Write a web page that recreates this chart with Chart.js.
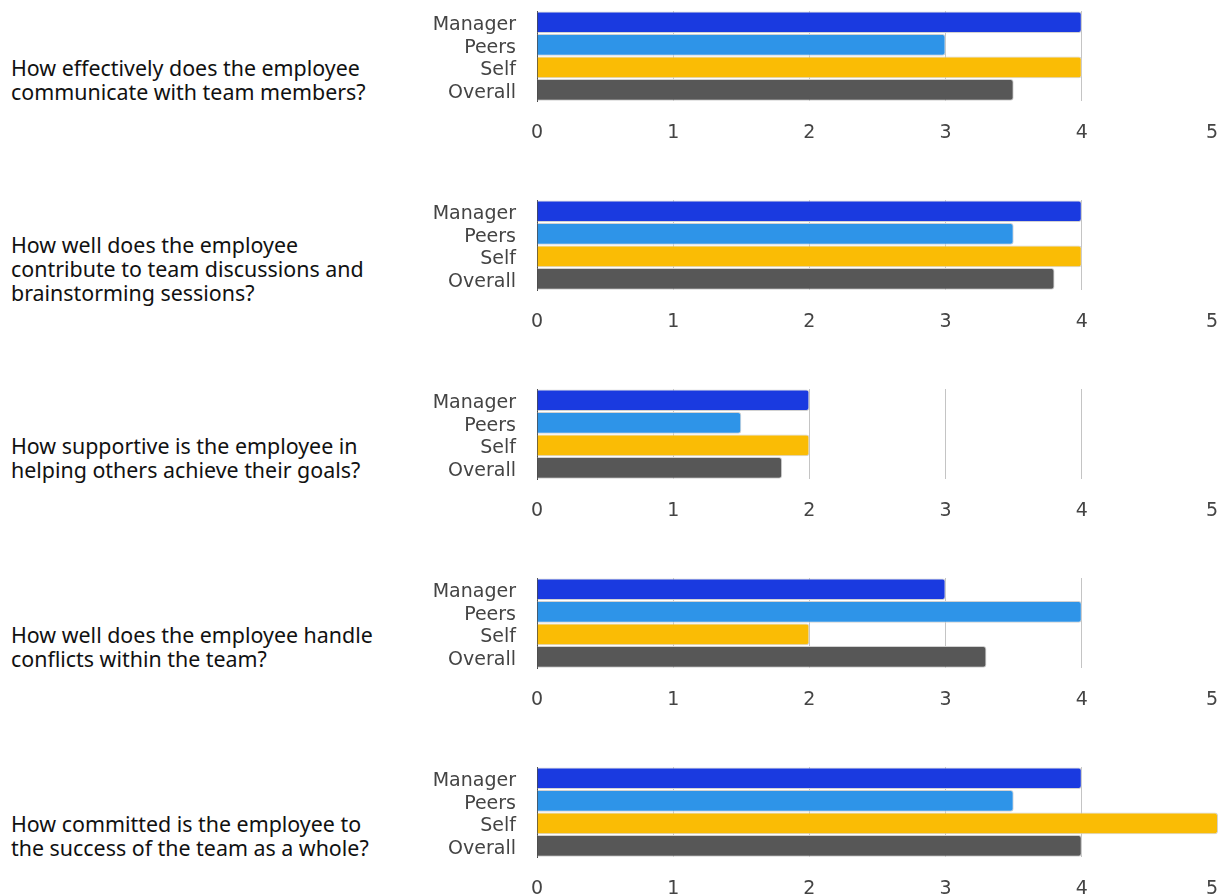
<!DOCTYPE html>
<html>
<head>
<meta charset="utf-8">
<script src="https://cdn.jsdelivr.net/npm/chart.js@4"></script>
<style>
  html, body { margin: 0; padding: 0; background: #fff; overflow: hidden; }
  body { width: 1219px; height: 894px; position: relative; }
  .row { position: absolute; left: 0; width: 1219px; height: 189px; }
  .question {
    position: absolute; left: 11px; top: 0; width: 400px; height: 160px;
    display: flex; align-items: center;
    font-family: "Noto Sans", sans-serif; font-size: 21.4px; line-height: 24px; color: #111;
  }
  .chart { position: absolute; left: 420px; top: 0; width: 798px; height: 166px; }
</style>
</head>
<body>
<div id="rows"></div>
<script>
const questions = [
  ['How effectively does the employee', 'communicate with team members?'],
  ['How well does the employee', 'contribute to team discussions and', 'brainstorming sessions?'],
  ['How supportive is the employee in', 'helping others achieve their goals?'],
  ['How well does the employee handle', 'conflicts within the team?'],
  ['How committed is the employee to', 'the success of the team as a whole?']
];
const raters = ['Manager', 'Peers', 'Self', 'Overall'];
const managerScores = [4, 4, 2, 3, 4];
const peerScores = [3, 3.5, 1.5, 4, 3.5];
const selfScores = [4, 4, 2, 2, 5];
const overallScores = [3.5, 3.8, 1.8, 3.3, 4];
const scoreTicks = [0, 1, 2, 3, 4, 5];

const raterColors = ['#1a3ae0', '#2e94e8', '#fabc05', '#575757'];
const axisFont = { family: '"DejaVu Sans", sans-serif', size: 19 };

const rows = document.getElementById('rows');

questions.forEach((lines, i) => {
  const row = document.createElement('div');
  row.className = 'row';
  row.style.top = (i * 189) + 'px';

  const q = document.createElement('div');
  q.className = 'question';
  q.innerHTML = '<div>' + lines.join('<br>') + '</div>';
  row.appendChild(q);

  const box = document.createElement('div');
  box.className = 'chart';
  const canvas = document.createElement('canvas');
  box.appendChild(canvas);
  row.appendChild(box);
  rows.appendChild(row);

  new Chart(canvas, {
    type: 'bar',
    data: {
      labels: raters,
      datasets: [{
        data: [managerScores[i], peerScores[i], selfScores[i], overallScores[i]],
        backgroundColor: raterColors,
        borderColor: '#d2d2d2',
        borderWidth: 1,
        borderRadius: 3,
        barPercentage: 0.96,
        categoryPercentage: 1
      }]
    },
    options: {
      indexAxis: 'y',
      responsive: true,
      maintainAspectRatio: false,
      animation: false,
      layout: { padding: { top: 11, bottom: 2 } },
      plugins: {
        legend: { display: false },
        tooltip: { enabled: false }
      },
      scales: {
        x: {
          min: scoreTicks[0],
          max: scoreTicks[scoreTicks.length - 1],
          afterBuildTicks: s => { s.ticks = scoreTicks.map(v => ({ value: v })) },
          // let the plot run to the right edge
          afterFit: s => { s.paddingRight = 0 },
          border: { display: false },
          grid: {
            drawTicks: false,
            color: c => (c.tick && c.tick.value > 0 && c.tick.value < 5) ? '#c4c4c4' : 'transparent'
          },
          ticks: {
            padding: 20,
            color: '#444',
            font: axisFont,
            // keep the last label inside the canvas
            callback: v => v === 5 ? v + '\u2007' : v
          }
        },
        y: {
          afterFit: s => {
            s.width = 117;
            s.paddingTop = 0;
            s.paddingBottom = 0;
          },
          border: { color: '#4a4a4a', width: 1 },
          grid: { display: false, drawTicks: false },
          ticks: { padding: 21, labelOffset: 3, color: '#444', font: axisFont, autoSkip: false }
        }
      }
    }
  });
});
</script>
</body>
</html>
